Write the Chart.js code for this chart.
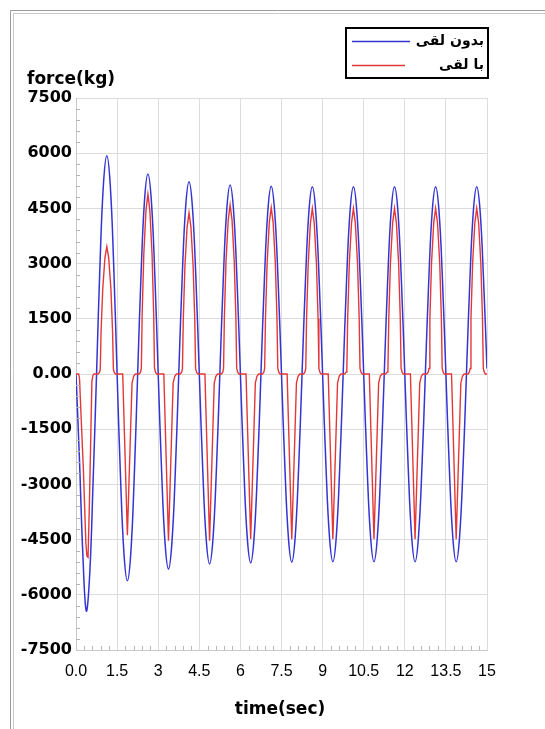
<!DOCTYPE html>
<html>
<head>
<meta charset="utf-8">
<script src="https://cdn.jsdelivr.net/npm/chart.js@4.4.1/dist/chart.umd.min.js"></script>
<style>
  html, body { margin: 0; background: #fff; }
  canvas { display: block; }
</style>
</head>
<body>
<canvas id="forceChart" width="545" height="729"></canvas>
<script>
// time axis (sec) for the first series, one row per 1.5 s cycle
var blueTime = [
  0, 0.125, 0.25, 0.375, 0.5, 0.625, 0.75, 0.875, 1, 1.125, 1.25, 1.375,
  1.5, 1.625, 1.75, 1.875, 2, 2.125, 2.25, 2.375, 2.5, 2.625, 2.75, 2.875,
  3, 3.125, 3.25, 3.375, 3.5, 3.625, 3.75, 3.875, 4, 4.125, 4.25, 4.375,
  4.5, 4.625, 4.75, 4.875, 5, 5.125, 5.25, 5.375, 5.5, 5.625, 5.75, 5.875,
  6, 6.125, 6.25, 6.375, 6.5, 6.625, 6.75, 6.875, 7, 7.125, 7.25, 7.375,
  7.5, 7.625, 7.75, 7.875, 8, 8.125, 8.25, 8.375, 8.5, 8.625, 8.75, 8.875,
  9, 9.125, 9.25, 9.375, 9.5, 9.625, 9.75, 9.875, 10, 10.125, 10.25, 10.375,
  10.5, 10.625, 10.75, 10.875, 11, 11.125, 11.25, 11.375, 11.5, 11.625, 11.75, 11.875,
  12, 12.125, 12.25, 12.375, 12.5, 12.625, 12.75, 12.875, 13, 13.125, 13.25, 13.375,
  13.5, 13.625, 13.75, 13.875, 14, 14.125, 14.25, 14.375, 14.5, 14.625, 14.75, 14.875,
  15
];

// force (kg) without clearance
var blueForce = [
  0, -2300, -4900, -6440, -5450, -2900, 0, 2965, 5135, 5930, 5135, 2965,
  0, -2810, -4870, -5620, -4870, -2810, 0, 2720, 4710, 5435, 4710, 2720,
  0, -2650, -4590, -5300, -4590, -2650, 0, 2610, 4525, 5225, 4525, 2610,
  0, -2580, -4470, -5160, -4470, -2580, 0, 2570, 4445, 5135, 4445, 2570,
  0, -2565, -4440, -5130, -4440, -2565, 0, 2550, 4415, 5100, 4415, 2550,
  0, -2555, -4425, -5110, -4425, -2555, 0, 2545, 4410, 5090, 4410, 2545,
  0, -2550, -4415, -5100, -4415, -2550, 0, 2545, 4410, 5090, 4410, 2545,
  0, -2550, -4415, -5100, -4415, -2550, 0, 2545, 4410, 5090, 4410, 2545,
  0, -2550, -4415, -5100, -4415, -2550, 0, 2545, 4410, 5090, 4410, 2545,
  0, -2550, -4415, -5100, -4415, -2550, 0, 2545, 4410, 5090, 4410, 2545,
  150
];

// time axis (sec) for the second series, grouped per dip / pulse
var redTime = [
  0, 0.10, 0.13, 0.16, 0.27, 0.36, 0.40, 0.44, 0.49, 0.54, 0.58, 0.62, 0.66,
  0.80, 0.855, 0.885, 0.915, 0.975, 1.055, 1.125, 1.195, 1.275, 1.335, 1.365, 1.405, 1.445,
  1.705, 1.765, 1.82, 1.875, 1.935, 1.995, 2.045, 2.105, 2.165,
  2.305, 2.355, 2.385, 2.415, 2.475, 2.555, 2.625, 2.695, 2.775, 2.835, 2.865, 2.905, 2.945,
  3.205, 3.265, 3.32, 3.375, 3.435, 3.495, 3.545, 3.605, 3.665,
  3.805, 3.855, 3.885, 3.915, 3.975, 4.055, 4.125, 4.195, 4.275, 4.335, 4.365, 4.405, 4.445,
  4.705, 4.765, 4.82, 4.875, 4.935, 4.995, 5.045, 5.105, 5.165,
  5.305, 5.355, 5.385, 5.415, 5.475, 5.555, 5.625, 5.695, 5.775, 5.835, 5.865, 5.905, 5.945,
  6.205, 6.265, 6.32, 6.375, 6.435, 6.495, 6.545, 6.605, 6.665,
  6.805, 6.855, 6.885, 6.915, 6.975, 7.055, 7.125, 7.195, 7.275, 7.335, 7.365, 7.405, 7.445,
  7.705, 7.765, 7.82, 7.875, 7.935, 7.995, 8.045, 8.105, 8.165,
  8.305, 8.355, 8.385, 8.415, 8.475, 8.555, 8.625, 8.695, 8.775, 8.835, 8.865, 8.905, 8.945,
  9.205, 9.265, 9.32, 9.375, 9.435, 9.495, 9.545, 9.605, 9.665,
  9.805, 9.855, 9.885, 9.915, 9.975, 10.055, 10.125, 10.195, 10.275, 10.335, 10.365, 10.405, 10.445,
  10.705, 10.765, 10.82, 10.875, 10.935, 10.995, 11.045, 11.105, 11.165,
  11.305, 11.355, 11.385, 11.415, 11.475, 11.555, 11.625, 11.695, 11.775, 11.835, 11.865, 11.905, 11.945,
  12.205, 12.265, 12.32, 12.375, 12.435, 12.495, 12.545, 12.605, 12.665,
  12.805, 12.855, 12.885, 12.915, 12.975, 13.055, 13.125, 13.195, 13.275, 13.335, 13.365, 13.405, 13.445,
  13.705, 13.765, 13.82, 13.875, 13.935, 13.995, 14.045, 14.105, 14.165,
  14.305, 14.355, 14.385, 14.415, 14.475, 14.555, 14.625, 14.695, 14.775, 14.835, 14.865, 14.905, 14.945,
  15
];

// force (kg) with clearance
var redForce = [
  0, 0, -150, -700, -2600, -4600, -4950, -4980, -3500, -1700, -200, -30, 0,
  0, 40, 120, 1150, 2300, 3150, 3460, 3150, 2300, 1150, 120, 30, 0,
  0, -1550, -2960, -4380, -2920, -1460, -250, -60, 0,
  0, 50, 160, 1630, 3260, 4455, 4890, 4455, 3260, 1630, 160, 40, 0,
  0, -1600, -3060, -4530, -3020, -1510, -250, -60, 0,
  0, 50, 145, 1460, 2920, 3990, 4380, 3990, 2920, 1460, 145, 40, 0,
  0, -1600, -3060, -4530, -3020, -1510, -250, -60, 0,
  0, 50, 150, 1530, 3060, 4180, 4590, 4180, 3060, 1530, 150, 40, 0,
  0, -1580, -3030, -4480, -3000, -1500, -250, -60, 0,
  0, 50, 150, 1510, 3010, 4120, 4520, 4120, 3010, 1510, 150, 40, 0,
  0, -1590, -3040, -4490, -2990, -1500, -250, -60, 0,
  0, 50, 150, 1500, 3000, 4100, 4500, 4100, 3000, 1500, 150, 40, 0,
  0, -1590, -3040, -4490, -2990, -1500, -250, -60, 0,
  0, 50, 150, 1500, 3000, 4100, 4500, 4100, 3000, 1500, 150, 40, 0,
  0, -1590, -3040, -4490, -2990, -1500, -250, -60, 0,
  0, 50, 150, 1500, 3000, 4100, 4500, 4100, 3000, 1500, 150, 40, 0,
  0, -1590, -3040, -4490, -2990, -1500, -250, -60, 0,
  0, 50, 150, 1500, 3000, 4100, 4500, 4100, 3000, 1500, 150, 40, 0,
  0, -1590, -3040, -4490, -2990, -1500, -250, -60, 0,
  0, 50, 150, 1500, 3000, 4100, 4500, 4100, 3000, 1500, 150, 40, 0,
  0
];

var seriesLabels = ["بدون لقی", "با لقی"];
var seriesColors = ["#3434d4", "#e43838"];
var yTitle = "force(kg)";
var xTitle = "time(sec)";

function toPoints(xs, ys) {
  return xs.map(function (x, i) { return { x: x, y: ys[i] }; });
}

// page frame, axis titles, minor ticks and the boxed legend
var decorations = {
  id: "decorations",
  beforeDraw: function (chart) {
    var ctx = chart.ctx;
    ctx.save();
    ctx.fillStyle = "#fff";
    ctx.fillRect(0, 0, chart.width, chart.height);
    ctx.lineWidth = 1;
    ctx.strokeStyle = "#9c9c9c";
    ctx.beginPath();
    ctx.moveTo(10.5, chart.height); ctx.lineTo(10.5, 10.5); ctx.lineTo(chart.width, 10.5);
    ctx.stroke();
    ctx.strokeStyle = "#c9c9c9";
    ctx.beginPath();
    ctx.moveTo(13.5, chart.height); ctx.lineTo(13.5, 13.5); ctx.lineTo(chart.width, 13.5);
    ctx.stroke();
    ctx.restore();
  },
  afterDraw: function (chart) {
    var ctx = chart.ctx;
    var area = chart.chartArea;
    var xs = chart.scales.x, ys = chart.scales.y;
    ctx.save();

    // minor ticks inside the plot
    ctx.strokeStyle = "#b5b5b5";
    ctx.lineWidth = 1;
    ctx.beginPath();
    for (var i = 1; i < 50; i++) {
      if (i % 5 === 0) continue;
      var px = Math.round(xs.getPixelForValue(i * 0.3)) + 0.5;
      ctx.moveTo(px, area.bottom); ctx.lineTo(px, area.bottom - 4);
    }
    for (var j = 1; j < 50; j++) {
      if (j % 5 === 0) continue;
      var py = Math.round(ys.getPixelForValue(-7500 + j * 300)) + 0.5;
      ctx.moveTo(area.left, py); ctx.lineTo(area.left + 4, py);
    }
    ctx.stroke();

    // axis titles
    ctx.fillStyle = "#000";
    ctx.font = "bold 17px 'DejaVu Sans'";
    ctx.textAlign = "left";
    ctx.textBaseline = "alphabetic";
    ctx.fillText(yTitle, 27, 84);
    ctx.textAlign = "center";
    ctx.fillText(xTitle, 280, 714);

    // legend box
    ctx.lineWidth = 2;
    ctx.strokeStyle = "#000";
    ctx.strokeRect(346, 28, 142, 50);
    var rows = [41, 65];
    var ends = [410, 405];
    ctx.font = "bold 14px 'DejaVu Sans'";
    ctx.textAlign = "right";
    ctx.textBaseline = "middle";
    for (var k = 0; k < 2; k++) {
      ctx.strokeStyle = seriesColors[k];
      ctx.lineWidth = 1.5;
      ctx.beginPath();
      ctx.moveTo(352, rows[k] + 0.5); ctx.lineTo(ends[k], rows[k] + 0.5);
      ctx.stroke();
      ctx.fillText(seriesLabels[k], 484, rows[k]);
    }
    ctx.restore();
  }
};

var chart = new Chart(document.getElementById("forceChart"), {
  type: "line",
  data: {
    datasets: [{
      label: seriesLabels[0],
      data: toPoints(blueTime, blueForce),
      borderColor: seriesColors[0],
      borderWidth: 1.5,
      pointRadius: 0,
      tension: 0.4,
      fill: false,
      order: 2
    }, {
      label: seriesLabels[1],
      data: toPoints(redTime, redForce),
      borderColor: seriesColors[1],
      borderWidth: 1.4,
      pointRadius: 0,
      tension: 0,
      fill: false,
      order: 1
    }]
  },
  options: {
    responsive: false,
    animation: false,
    layout: { padding: { top: 98, right: 58, bottom: 0, left: 0 } },
    plugins: { legend: { display: false }, tooltip: { enabled: false } },
    scales: {
      x: {
        type: "linear",
        min: 0,
        max: 15,
        afterFit: function (scale) { scale.height = 79; },
        grid: { color: "#dcdcdc", drawTicks: false },
        border: { color: "#c8c8c8" },
        ticks: {
          stepSize: 1.5,
          padding: 12,
          color: "#000",
          maxRotation: 0,
          autoSkip: false,
          font: { family: "Arial", size: 16 },
          callback: function (v) { return v === 0 ? "0.0" : String(v); }
        }
      },
      y: {
        min: -7500,
        max: 7500,
        afterFit: function (scale) { scale.width = 76; },
        grid: { color: "#dcdcdc", drawTicks: false },
        border: { color: "#c8c8c8" },
        ticks: {
          stepSize: 1500,
          padding: 4,
          color: "#000",
          font: { family: "'DejaVu Sans'", size: 16, weight: "bold" },
          callback: function (v) { return v === 0 ? "0.00" : String(v); }
        }
      }
    }
  },
  plugins: [decorations]
});
</script>
</body>
</html>
